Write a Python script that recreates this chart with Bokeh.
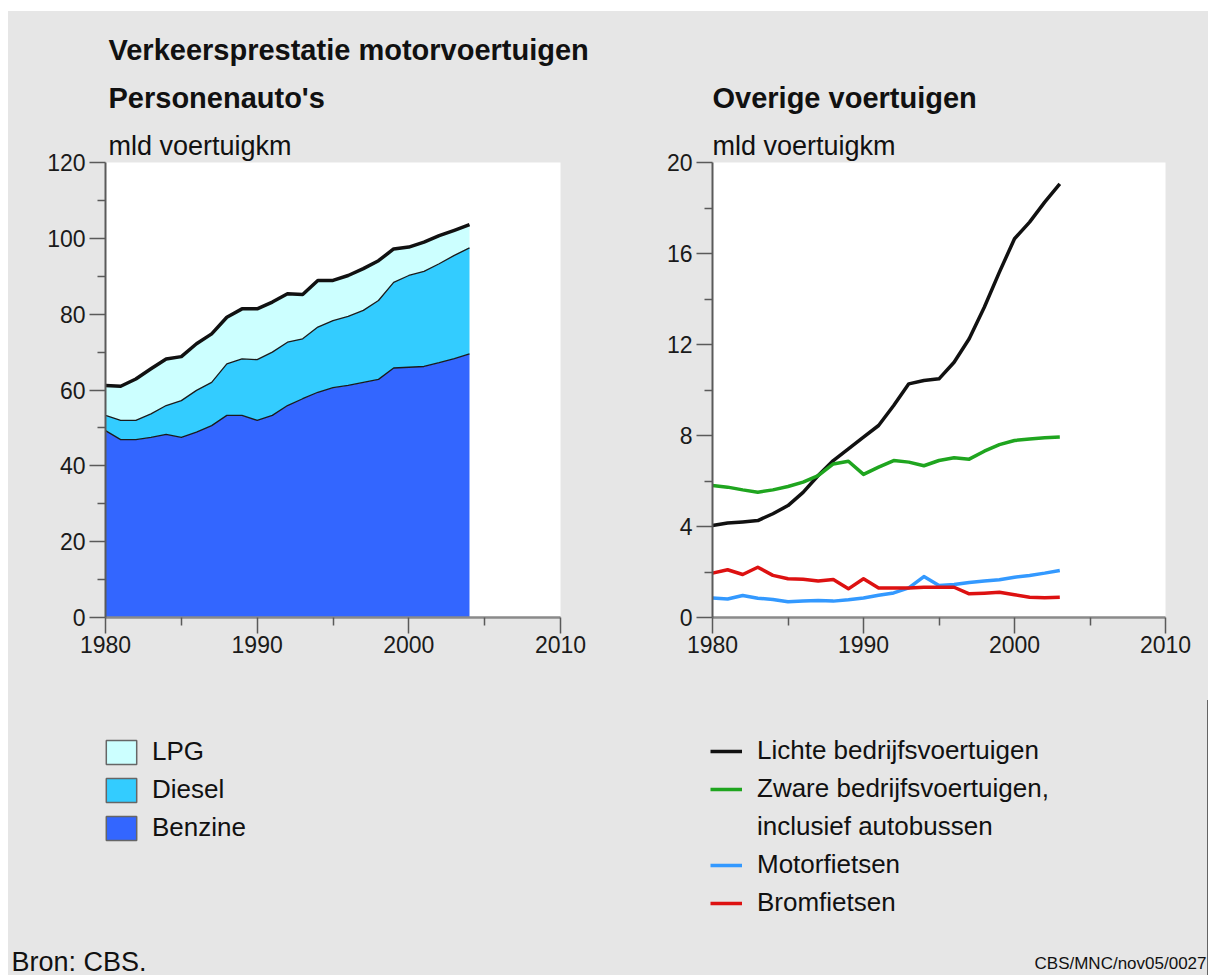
from bokeh.plotting import figure
from bokeh.models import (ColumnDataSource, Label, Legend, LegendItem, Range1d, FixedTicker,
                          Title, Spacer)
from bokeh.layouts import row, column
from bokeh.transform import stack
from bokeh.embed import file_html
from bokeh.resources import INLINE

# ---------------- data ----------------
years_cars = list(range(1980, 2005))
benzine = [49.3, 46.9, 46.9, 47.5, 48.3, 47.5, 48.9, 50.6, 53.3, 53.3, 52.0, 53.3, 55.9,
           57.7, 59.4, 60.6, 61.2, 62.0, 62.8, 65.8, 66.0, 66.2, 67.2, 68.3, 69.5]
diesel = [4.0, 5.1, 5.1, 6.2, 7.6, 9.7, 11.0, 11.4, 13.6, 14.9, 16.0, 16.7, 16.7,
          15.8, 17.2, 17.7, 18.2, 19.0, 20.8, 22.6, 24.2, 25.1, 26.1, 27.2, 28.0]
lpg = [7.9, 9.0, 10.9, 11.9, 12.3, 11.6, 12.3, 12.8, 12.3, 13.2, 13.4, 13.2, 12.8,
       11.7, 12.3, 10.6, 10.8, 11.0, 10.5, 8.8, 7.5, 7.7, 7.4, 6.6, 6.1]

years_other = list(range(1980, 2004))
lichte = [4.04, 4.15, 4.2, 4.26, 4.56, 4.92, 5.5, 6.24, 6.9, 7.41, 7.93, 8.44, 9.32,
          10.27, 10.42, 10.49, 11.22, 12.25, 13.64, 15.18, 16.65, 17.38, 18.26, 19.06]
zware = [5.8, 5.73, 5.61, 5.51, 5.61, 5.76, 5.95, 6.24, 6.75, 6.87, 6.29, 6.61, 6.9,
         6.83, 6.67, 6.9, 7.02, 6.96, 7.31, 7.6, 7.78, 7.85, 7.9, 7.93]
motorfietsen = [0.86, 0.81, 0.97, 0.85, 0.79, 0.69, 0.72, 0.75, 0.72, 0.78, 0.86, 0.98,
                1.08, 1.3, 1.8, 1.41, 1.45, 1.54, 1.6, 1.66, 1.77, 1.85, 1.95, 2.07]
bromfietsen = [1.95, 2.1, 1.89, 2.21, 1.85, 1.7, 1.68, 1.6, 1.67, 1.26, 1.7, 1.3, 1.3,
               1.3, 1.33, 1.33, 1.33, 1.04, 1.07, 1.11, 1.0, 0.89, 0.87, 0.89]

x_ticks = [1980, 1990, 2000, 2010]
x_minor = [1985, 1995, 2005]
y_ticks_cars = [0, 20, 40, 60, 80, 100, 120]
y_minor_cars = [10, 30, 50, 70, 90, 110]
y_ticks_other = [0, 4, 8, 12, 16, 20]
y_minor_other = [2, 6, 10, 14, 18]

# ---------------- style ----------------
BG = "#e6e6e6"
FONT = "Liberation Sans"
AX = "#5a5a5a"
TXT = "#111111"
C_LPG, C_DIESEL, C_BENZ = "#ccffff", "#33ccff", "#3366ff"
C_BLACK, C_GREEN, C_BLUE, C_RED = "#111111", "#1fa51f", "#3399ff", "#dd1111"

HEADER_H, PLOT_H, FOOTER_H = 113, 576, 275
PLOT_TOP, PLOT_BOTTOM = 38, 83


def blank_fig(width, height):
    p = figure(width=width, height=height, x_range=Range1d(0, 1), y_range=Range1d(0, 1),
               output_backend="svg", toolbar_location=None,
               x_axis_location=None, y_axis_location=None,
               min_border_left=0, min_border_right=0, min_border_top=0, min_border_bottom=0)
    p.background_fill_color = BG
    p.border_fill_color = BG
    p.outline_line_color = None
    p.grid.visible = False
    return p


def label(p, x, y, text, size, bold=False, align="left"):
    p.add_layout(Label(x=x, y=y, x_units="screen", y_units="screen", text=text,
                       text_font=FONT, text_font_size=size,
                       text_font_style="bold" if bold else "normal",
                       text_color=TXT, text_baseline="middle", text_align=align))


def make_plot(width, left, right, ymax, yt, ym, title_offset):
    p = figure(width=width, height=PLOT_H, x_range=Range1d(1980, 2010), y_range=Range1d(0, ymax),
               output_backend="svg", toolbar_location=None,
               min_border_left=left, min_border_right=right,
               min_border_top=PLOT_TOP, min_border_bottom=PLOT_BOTTOM)
    p.background_fill_color = "white"
    p.border_fill_color = BG
    p.outline_line_color = None
    p.grid.visible = False
    p.xaxis.ticker = FixedTicker(ticks=x_ticks, minor_ticks=x_minor)
    p.yaxis.ticker = FixedTicker(ticks=yt, minor_ticks=ym)
    for ax in (p.xaxis[0], p.yaxis[0]):
        ax.axis_line_color = AX
        ax.axis_line_width = 2
        ax.major_tick_line_color = AX
        ax.minor_tick_line_color = AX
        ax.major_tick_line_width = 1.5
        ax.minor_tick_line_width = 1.5
        ax.major_tick_in = 0
        ax.minor_tick_in = 0
        ax.major_tick_out = 16
        ax.minor_tick_out = 8
        ax.major_label_text_font = FONT
        ax.major_label_text_font_size = "23px"
        ax.major_label_text_color = "#1a1a1a"
    p.xaxis.axis_line_color = "#8a8a8a"
    p.xaxis.axis_line_width = 2.5
    p.xaxis.major_label_standoff = 2
    p.yaxis.major_label_standoff = 4
    p.add_layout(Title(text="mld voertuigkm", align="left", offset=title_offset, standoff=4,
                       text_font=FONT, text_font_size="27px", text_font_style="normal",
                       text_color=TXT), "above")
    return p


# ---------------- header ----------------
header = blank_fig(1200, HEADER_H)
label(header, 100, HEADER_H - 38, "Verkeersprestatie motorvoertuigen", "29px", bold=True)
label(header, 100, HEADER_H - 86, "Personenauto's", "29px", bold=True)
label(header, 704, HEADER_H - 86, "Overige voertuigen", "29px", bold=True)

# ---------------- left: Personenauto's ----------------
p1 = make_plot(604, 97, 52, 120, y_ticks_cars, y_minor_cars, 3)
src = ColumnDataSource(dict(year=years_cars, benzine=benzine, diesel=diesel, lpg=lpg))
p1.varea_stack(["benzine", "diesel", "lpg"], x="year", color=[C_BENZ, C_DIESEL, C_LPG], source=src)
p1.line(x="year", y=stack("benzine"), source=src, line_color="#1a1a1a", line_width=1.3)
p1.line(x="year", y=stack("benzine", "diesel"), source=src, line_color="#1a1a1a", line_width=1.3)
p1.line(x="year", y=stack("benzine", "diesel", "lpg"), source=src, line_color=C_BLACK,
        line_width=3.5, line_join="round")

# ---------------- right: Overige voertuigen ----------------
p2 = make_plot(596, 100, 43, 20, y_ticks_other, y_minor_other, 0)
src2 = ColumnDataSource(dict(year=years_other, lichte=lichte, zware=zware,
                             motor=motorfietsen, brom=bromfietsen))
for col, c in (("lichte", C_BLACK), ("zware", C_GREEN), ("motor", C_BLUE), ("brom", C_RED)):
    p2.line("year", col, source=src2, line_color=c, line_width=3.5, line_join="round")

# ---------------- footer with legends ----------------
# legend proxies: the same series, drawn outside the footer's (0..1) view so only the legend shows them
footer = blank_fig(1200, FOOTER_H)
box_kw = dict(x="year", width=0.8, source=src, line_color="#666666", line_width=1.5)
q_lpg = footer.vbar(top="lpg", fill_color=C_LPG, **box_kw)
q_die = footer.vbar(top="diesel", fill_color=C_DIESEL, **box_kw)
q_ben = footer.vbar(top="benzine", fill_color=C_BENZ, **box_kw)
l_l = footer.line("year", "lichte", source=src2, line_color=C_BLACK, line_width=3.5)
l_z = footer.line("year", "zware", source=src2, line_color=C_GREEN, line_width=3.5)
l_x = footer.line("year", "zware", source=src2, line_alpha=0)
l_m = footer.line("year", "motor", source=src2, line_color=C_BLUE, line_width=3.5)
l_b = footer.line("year", "brom", source=src2, line_color=C_RED, line_width=3.5)

leg_kw = dict(label_height=30, spacing=7,
              padding=0, margin=0, label_text_font=FONT, label_text_font_size="26px",
              label_text_color=TXT, border_line_color=None, background_fill_alpha=0)
leg1 = Legend(items=[LegendItem(label="LPG", renderers=[q_lpg]),
                     LegendItem(label="Diesel", renderers=[q_die]),
                     LegendItem(label="Benzine", renderers=[q_ben])],
              location=(94, 132), glyph_width=38, glyph_height=30, label_standoff=12, **leg_kw)
leg2 = Legend(items=[LegendItem(label="Lichte bedrijfsvoertuigen", renderers=[l_l]),
                     LegendItem(label="Zware bedrijfsvoertuigen,", renderers=[l_z]),
                     LegendItem(label="inclusief autobussen", renderers=[l_x]),
                     LegendItem(label="Motorfietsen", renderers=[l_m]),
                     LegendItem(label="Bromfietsen", renderers=[l_b])],
              location=(702, 57), glyph_width=32, glyph_height=24, label_standoff=15, **leg_kw)
footer.add_layout(leg1)
footer.add_layout(leg2)
label(footer, 3, 14, "Bron: CBS.", "27px")
label(footer, 1198, 12, "CBS/MNC/nov05/0027", "17px", align="right")

inner = column(header, row(p1, p2, styles={"background-color": BG}), footer,
               styles={"background-color": BG})
layout = column(Spacer(height=11), row(Spacer(width=8), inner))
open("out.html", "w").write(file_html(layout, INLINE))
